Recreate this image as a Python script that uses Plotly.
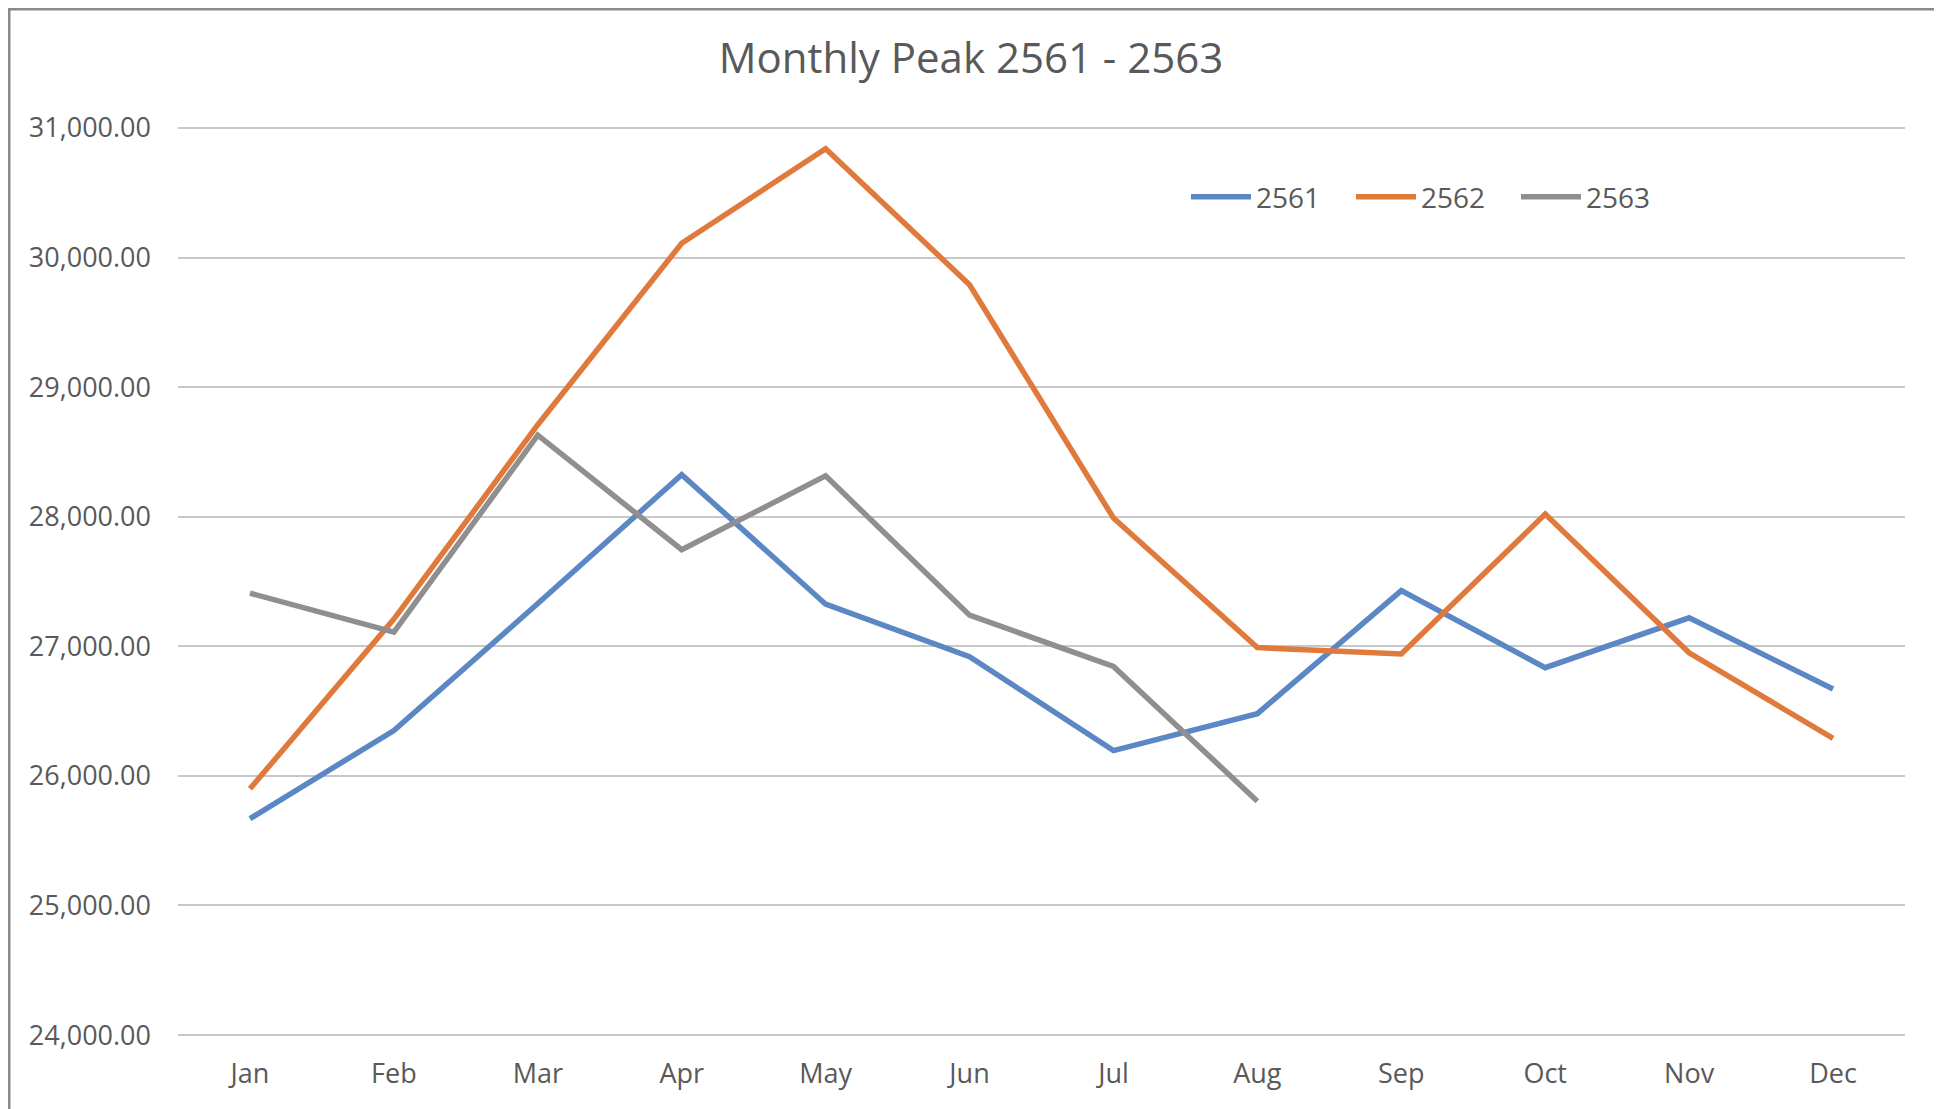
import plotly.graph_objects as go

months = ["Jan", "Feb", "Mar", "Apr", "May", "Jun", "Jul", "Aug", "Sep", "Oct", "Nov", "Dec"]
peak_2561 = [25670, 26350, 27330, 28325, 27325, 26920, 26195, 26480, 27430, 26835, 27220, 26670]
peak_2562 = [25900, 27210, 28710, 30110, 30840, 29790, 27990, 26990, 26940, 28020, 26950, 26290]
peak_2563 = [27410, 27110, 28630, 27745, 28315, 27240, 26845, 25805]

series = [
    ("2561", peak_2561, "#5B88C4"),
    ("2562", peak_2562, "#E07A3C"),
    ("2563", peak_2563, "#8F8F8F"),
]

fig = go.Figure()
for name, vals, color in series:
    fig.add_trace(go.Scatter(
        x=months[:len(vals)], y=vals, name=name, mode="lines",
        line=dict(color=color, width=5.5),
    ))

W, H = 1942, 1109
L, R, T, B = 170, 45, 118, 80
PW, PH = W - L - R, H - T - B

fig.update_layout(
    width=W, height=H,
    margin=dict(l=L, r=R, t=T, b=B),
    paper_bgcolor="white", plot_bgcolor="white",
    font=dict(family="Open Sans, sans-serif", color="#595959"),
    title=dict(text="Monthly Peak 2561 - 2563", x=(971 - 8) / W, xanchor="center",
               y=1 - 50 / H, yanchor="middle",
               font=dict(size=42, color="#595959")),
    legend=dict(orientation="h", x=(1178 - L) / PW, xanchor="left",
                y=(H - B - 189) / PH, yanchor="middle",
                font=dict(size=28, color="#595959"),
                bgcolor="rgba(0,0,0,0)", itemwidth=60, tracegroupgap=0,
                entrywidth=90, entrywidthmode="pixels"),
    showlegend=True,
    xaxis=dict(type="category", categoryorder="array", categoryarray=months,
               range=[-0.5, 11.5], showgrid=False, zeroline=False,
               showline=False, ticks="", tickfont=dict(size=27, color="#595959"),
               ticklabelstandoff=18),
    yaxis=dict(range=[23985, 31015], dtick=1000, tick0=0, tickformat=",.2f",
               showgrid=True, gridcolor="#C8C8C8", gridwidth=1.5,
               zeroline=False, showline=False, ticks="",
               tickfont=dict(size=27, color="#595959"), ticklabelstandoff=26),
)

# outer frame of the chart image (left/top darker, right lighter)
fx0, fx1 = -L / PW, 1 + (R - 2) / PW
fy0, fy1 = -B / PH, 1 + T / PH
fig.add_shape(type="line", xref="paper", yref="paper",
              x0=fx0, x1=fx0, y0=fy0, y1=fy1,
              line=dict(color="#8A8A8A", width=5), layer="below")
fig.add_shape(type="line", xref="paper", yref="paper",
              x0=fx0, x1=fx1, y0=fy1, y1=fy1,
              line=dict(color="#8A8A8A", width=5), layer="below")
fig.add_shape(type="line", xref="paper", yref="paper",
              x0=fx1, x1=fx1, y0=fy0, y1=fy1,
              line=dict(color="#DADADA", width=2), layer="below")

fig.write_html("out.html")
